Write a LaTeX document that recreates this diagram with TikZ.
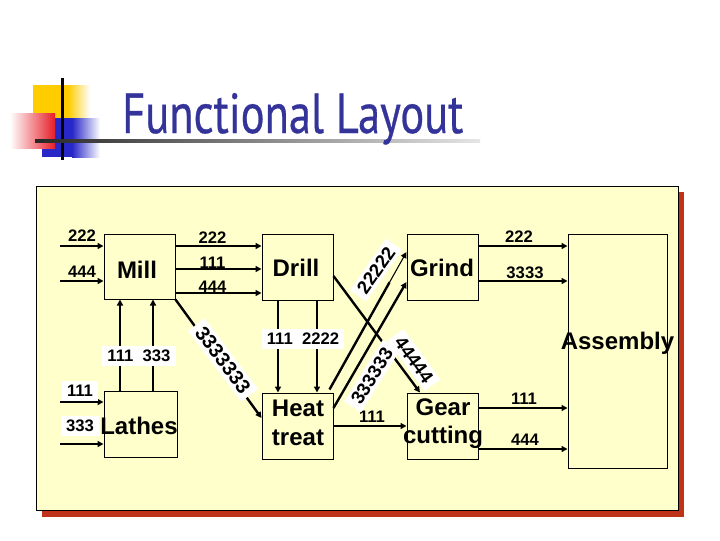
\documentclass[tikz,border=0pt]{standalone}
\usepackage{fontspec}
\setmainfont{Liberation Sans}
\newfontfamily\titlefont[FakeBold=0.6]{PT Sans}
\usetikzlibrary{arrows.meta,calc}
\definecolor{panel}{RGB}{255,255,204}
\definecolor{shadowred}{RGB}{190,50,25}
\definecolor{titleblue}{RGB}{51,51,153}
\definecolor{logoyellow}{RGB}{255,204,0}
\definecolor{logored}{RGB}{230,30,40}
\definecolor{logoblue}{RGB}{40,40,200}
\begin{document}
\begin{tikzpicture}[x=0.75pt,y=-0.75pt,
  box/.style={draw=black, line width=0.75pt, fill=panel, inner sep=0pt},
  boxtext/.style={font=\bfseries\fontsize{18}{22}\selectfont, inner sep=0pt, align=center},
  lab/.style={font=\bfseries\fontsize{12.5}{14}\selectfont, inner sep=1pt},
  wlab/.style={lab, fill=white, inner xsep=4pt, inner ysep=3pt},
  rlab/.style={wlab, font=\bfseries\fontsize{14}{16}\selectfont, inner ysep=2.5pt},
  flow/.style={line width=1.8pt, -{Triangle[length=4.5pt,width=4.5pt]}},
  thinflow/.style={line width=0.8pt, -{Triangle[length=4.5pt,width=4.5pt]}}
]
\useasboundingbox (0,0) rectangle (720,540);
% logo
\fill[logoyellow] (33,85) rectangle (68,118);
\shade[left color=logoyellow, right color=white] (68,85) rectangle (90,118);
\fill[logoblue] (42,118) rectangle (72,157);
\shade[left color=logoblue, right color=white] (72,118) rectangle (100,157);
\shade[left color=white, right color=logored] (10,113) rectangle (55,148);
\fill[black] (60.8,78) rectangle (63.5,160);
\shade[left color=black!85, right color=black!10] (35,139.8) rectangle (480,142.5);
% title
\node[text=titleblue, anchor=base west, inner sep=0pt] (title) at (122,133)
  {\resizebox{255.75pt}{30pt}{\titlefont Functional Layout}};
% panel
\fill[shadowred] (42,192) rectangle (684,517);
\filldraw[fill=panel, draw=black, line width=0.75pt] (36,186) rectangle (678,510);
% boxes
\node[box, minimum width=53.25pt, minimum height=48.75pt] (mill) at (139.5,266.5) {};
\node[box, minimum width=53.25pt, minimum height=49.5pt] (drill) at (297.5,267) {};
\node[box, minimum width=53.25pt, minimum height=49.5pt] (grind) at (442.5,267) {};
\node[box, minimum width=74.25pt, minimum height=175.5pt] (assembly) at (617.5,351) {};
\node[box, minimum width=54.75pt, minimum height=49.5pt] (lathes) at (140.5,424) {};
\node[box, minimum width=53.25pt, minimum height=49.5pt] (heat) at (297.5,426) {};
\node[box, minimum width=53.25pt, minimum height=49.5pt] (gear) at (442.5,426) {};
% box texts
\node[boxtext] (tmill) at (137,270) {Mill};
\node[boxtext] (tdrill) at (296,268) {Drill};
\node[boxtext] (tgrind) at (442,268) {Grind};
\node[boxtext] (tassembly) at (617.5,343) {Assembly};
\node[boxtext] (tlathes) at (139,426) {Lathes};
\node[boxtext, font=\bfseries\fontsize{18}{22}\selectfont] (theat) at (298,423) {Heat\\treat};
\node[boxtext, font=\bfseries\fontsize{18}{21}\selectfont] (tgear) at (443,424) {Gear\\cutting};
% helper coordinates
\coordinate (r1) at (0,246);
\coordinate (r2) at (0,269);
\coordinate (r3) at (0,293);
\coordinate (r4) at (0,281);
\coordinate (g1) at (0,408);
\coordinate (g2) at (0,449);
\coordinate (hg) at (0,426);
\coordinate (c1) at (120,0);
\coordinate (c2) at (153,0);
\coordinate (d1) at (278,0);
\coordinate (d2) at (317,0);
\coordinate (inA) at (60,246);
\coordinate (inB) at (60,281);
\coordinate (inC) at (60,402);
\coordinate (inD) at (60,444);
\coordinate (mhy) at (0,418);
\coordinate (dgy) at (0,276);
\coordinate (dgx) at (420,0);
\coordinate (gA) at (0,252);
\coordinate (gB) at (0,282);
\coordinate (hB) at (0,408);
% inputs
\draw[flow] (inA) -- (inA -| mill.west);
\draw[flow] (inB) -- (inB -| mill.west);
\draw[flow] (inC) -- (inC -| lathes.west);
\draw[flow] (inD) -- (inD -| lathes.west);
% mill -> drill
\draw[flow] (mill.east |- r1) -- (drill.west |- r1);
\draw[flow] (mill.east |- r2) -- (drill.west |- r2);
\draw[flow] (mill.east |- r3) -- (drill.west |- r3);
% lathes -> mill
\draw[flow] (lathes.north -| c1) -- (mill.south -| c1);
\draw[flow] (lathes.north -| c2) -- (mill.south -| c2);
% drill -> heat
\draw[flow] (drill.south -| d1) -- (heat.north -| d1);
\draw[flow] (drill.south -| d2) -- (heat.north -| d2);
% mill -> heat
\draw[flow] (mill.south east) -- (heat.west |- mhy);
% drill -> gear
\draw[flow] (drill.east |- dgy) -- (gear.north -| dgx);
% heat -> grind
\coordinate (hA) at ($(heat.north east)+(-4,-3)$);
\coordinate (mA) at ($(hA)!0.78!(grind.west |- gA)$);
\draw[line width=1.8pt] (hA) -- (mA);
\draw[thinflow] (mA) -- (grind.west |- gA);
\draw[flow] (heat.east |- hB) -- (grind.west |- gB);
% heat -> gear
\draw[flow] (heat.east |- hg) -- (gear.west |- hg);
% grind -> assembly
\draw[flow] (grind.east |- r1) -- (assembly.west |- r1);
\draw[flow] (grind.east |- r4) -- (assembly.west |- r4);
% gear -> assembly
\draw[flow] (gear.east |- g1) -- (assembly.west |- g1);
\draw[flow] (gear.east |- g2) -- (assembly.west |- g2);
% labels
\node[lab] (a1) at (82,236) {222};
\node[lab] (a2) at (82,271.5) {444};
\node[lab] (b1) at (212.5,237.5) {222};
\node[lab] (b2) at (212.5,262.5) {111};
\node[lab] (b3) at (212.5,286.5) {444};
\node[lab] (e1) at (519,237) {222};
\node[lab] (e2) at (525,273) {3333};
\node[lab] (f1) at (524,399) {111};
\node[lab] (f2) at (525,440) {444};
\node[lab] (h1) at (372,417) {111};
\node[wlab] (l1t) at (80,391) {111};
\node[wlab] (l2t) at (80,426) {333};
\node[wlab] (lm) at (139,356) {111\ \ 333};
\node[wlab] (dh) at (303,339) {111\ \ 2222};
\node[rlab, rotate=-53, font=\bfseries\fontsize{15}{17}\selectfont] (mh) at (223,360) {3333333};
\node[rlab, rotate=-54] (dg) at (414,360) {44444};
\node[rlab, rotate=55] (hgA) at (376,270) {22222};
\node[rlab, rotate=58] (hgB) at (372,376) {333333};
\end{tikzpicture}
\end{document}
